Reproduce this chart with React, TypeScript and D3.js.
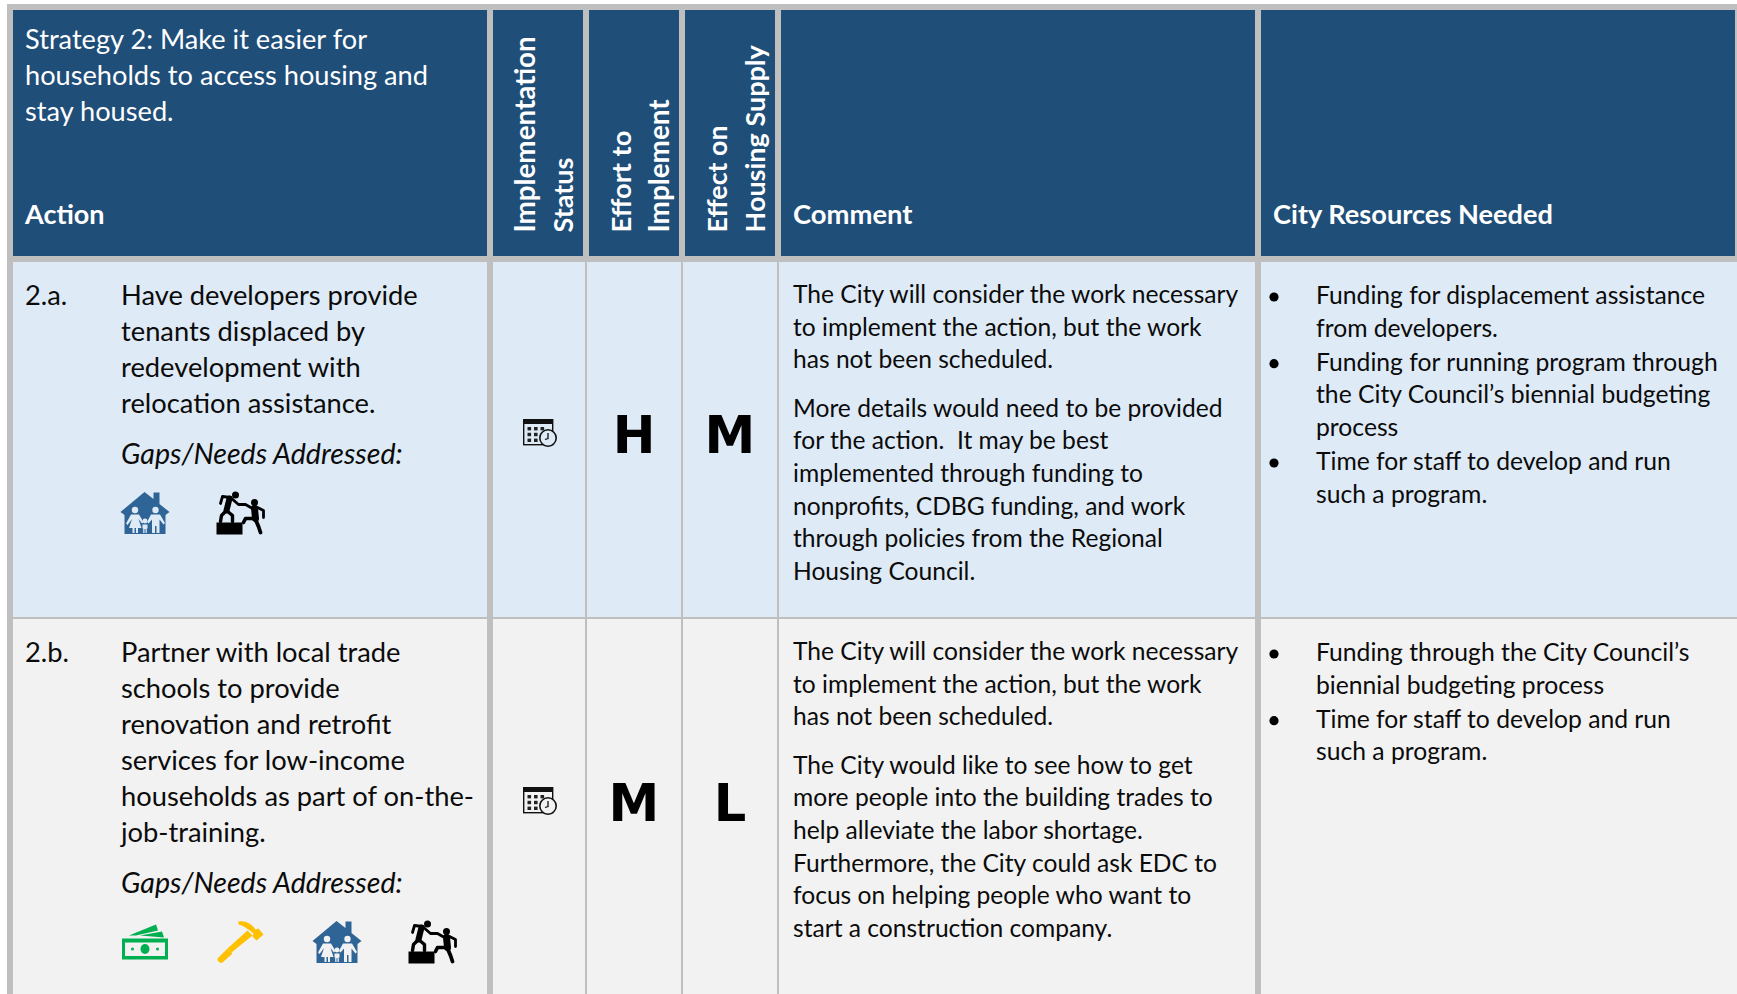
import * as d3 from 'd3';

const WIDTH = 1737;
const HEIGHT = 994;
const FONT = 'Lato, Carlito, sans-serif';
const LETTER_FONT = "'DejaVu Sans', Verdana, sans-serif";

const C = {
  head: '#1F4E79',
  grid: '#BFBFBF',
  rowA: '#DEEAF6',
  rowB: '#F2F2F2',
  ink: '#0B0B0B',
};

const strategyLines = ['Strategy 2: Make it easier for', 'households to access housing and', 'stay housed.'];
const rotatedHeaders = [
  ['Implementation', 'Status'],
  ['Effort to', 'Implement'],
  ['Effect on', 'Housing Supply'],
];
const rowIds = ['2.a.', '2.b.'];
const actionLines = [
  ['Have developers provide', 'tenants displaced by', 'redevelopment with', 'relocation assistance.'],
  ['Partner with local trade', 'schools to provide', 'renovation and retrofit', 'services for low-income', 'households as part of on-the-', 'job-training.'],
];
const effortRatings = ['H', 'M'];
const supplyRatings = ['M', 'L'];
const commentParas = [
  [
    ['The City will consider the work necessary', 'to implement the action, but the work', 'has not been scheduled.'],
    ['More details would need to be provided', 'for the action.  It may be best', 'implemented through funding to', 'nonprofits, CDBG funding, and work', 'through policies from the Regional', 'Housing Council.'],
  ],
  [
    ['The City will consider the work necessary', 'to implement the action, but the work', 'has not been scheduled.'],
    ['The City would like to see how to get', 'more people into the building trades to', 'help alleviate the labor shortage.', 'Furthermore, the City could ask EDC to', 'focus on helping people who want to', 'start a construction company.'],
  ],
];
const resourceBullets = [
  [
    ['Funding for displacement assistance', 'from developers.'],
    ['Funding for running program through', 'the City Council\u2019s biennial budgeting', 'process'],
    ['Time for staff to develop and run', 'such a program.'],
  ],
  [
    ['Funding through the City Council\u2019s', 'biennial budgeting process'],
    ['Time for staff to develop and run', 'such a program.'],
  ],
];
const gapIcons = [
  ['house', 'help'],
  ['money', 'hammer', 'house', 'help'],
];

// column edges of the table
const colLeft = [13, 493, 589, 685, 781, 1261];
const colRight = [487, 583, 679, 775, 1255, 1735];
const cellLeft = [13, 493, 587, 683, 779, 1261];
const cellRight = [487, 585, 681, 777, 1255, WIDTH];
const rowTop = [262, 619];
const rowBottom = [617, 994];
// Lato runs a little wider than the original face on some lines
const rotatedSizes = [
  [27.8, 27],
  [27.3, 27.9],
  [26.8, 27],
];

const firstBaseline = d3.scaleOrdinal<number, number>().domain([0, 1]).range([305, 662]);
const commentBase = d3.scaleOrdinal<number, number>().domain([0, 1]).range([303, 660]);
const iconY = d3.scaleOrdinal<number, number>().domain([0, 1]).range([513, 942]);
const gapsY = d3.scaleOrdinal<number, number>().domain([0, 1]).range([464, 893]);
const statusY = d3.scaleOrdinal<number, number>().domain([0, 1]).range([433, 801]);
const ratingBase = d3.scaleOrdinal<number, number>().domain([0, 1]).range([453, 821]);
const iconX = d3.scaleLinear().domain([0, 1]).range([145, 241]);
const actionLine = d3.scaleLinear().domain([0, 1]).range([0, 36]);
const commentLine = d3.scaleLinear().domain([0, 1]).range([0, 32.6]);
const headLine = d3.scaleLinear().domain([0, 1]).range([49, 85]);
const ratingX = d3.scaleBand<number>().domain([0, 1]).range([586, 778]);

function ratingCx(i: number) {
  return (ratingX(i) ?? 0) + ratingX.bandwidth() / 2;
}

function HouseIcon({ bg }: { bg: string }) {
  return (
    <g transform="translate(-24.5,-21)">
      <path d="M0 20 L24 0 L33 7 L33 0.5 L39 0.5 L39 12 L49 20 L45 23 L45 42 L4 42 L4 23 Z" fill="#2F6496" />
      <g fill={bg}>
        <circle cx="14.5" cy="18" r="3.2" />
        <circle cx="35" cy="18" r="3.2" />
        <circle cx="24.5" cy="29" r="2.4" />
        <path d="M10.5 22.5 H18.5 L23 30 L21.5 31.5 L18 27 L21 36 H17.5 V41 H15.5 V36 H14 V41 H12 V36 H8.5 L11.5 27 L7 33 L5.5 31.5 Z" />
        <path d="M30.5 22.5 H39.5 L44.5 31 L43 32.5 L39 27.5 V41 H36 V34 H34.5 V41 H31.5 V27.5 L28 31.5 L26.5 30 Z" />
        <path d="M22 32.5 H27 V36.5 H26.3 V41 H25 V37 H24 V41 H22.7 V36.5 H22 Z" />
      </g>
    </g>
  );
}

function HelpIcon() {
  return (
    <g transform="translate(-24.5,-21.5)">
      <rect x="0" y="31" width="26" height="12" fill="#000" />
      <circle cx="19" cy="3.5" r="3.5" fill="#000" />
      <circle cx="38" cy="11" r="3.5" fill="#000" />
      <g fill="none" stroke="#000" strokeLinecap="round" strokeLinejoin="round">
        <path d="M13 7 L10 19" strokeWidth="6" />
        <path d="M14 6 L6 5 L4 12" strokeWidth="2.8" />
        <path d="M14 6 L22 13 L29 13 L36 17" strokeWidth="2.8" />
        <path d="M10 19 L5 24 L4 30" strokeWidth="3.4" />
        <path d="M10 19 L16 24 L16 30" strokeWidth="3.4" />
        <path d="M38 17 L39 27" strokeWidth="7" />
        <path d="M41 16 L47 19 L47 26" strokeWidth="2.8" />
        <path d="M37 27 L29 27 L27 31" strokeWidth="3.6" />
        <path d="M39 28 L42 35 L44 41" strokeWidth="3.8" />
      </g>
    </g>
  );
}

function MoneyIcon() {
  return (
    <g transform="translate(-23,-17.5)" fill="#00B050">
      <path d="M7 11 L34 0 L36 6 L14 11 Z" />
      <path d="M18 11 L40 7 L42 13 L30 12 Z" />
      <path fillRule="evenodd" d="M0 14 H46 V35 H0 Z M3 18 V31.5 H43 V18 Z" />
      <ellipse cx="23" cy="24.5" rx="4.5" ry="5" />
      <circle cx="10.5" cy="24.5" r="1.5" />
      <circle cx="35.5" cy="24.5" r="1.5" />
    </g>
  );
}

function HammerIcon() {
  return (
    <g transform="translate(-23.5,-20.5)" fill="#FFC000">
      <path d="M21 0 C28 -1 34 2 38 8 L41 7 L46 13 L39 19 L35 15 L36 12 C32 9 28 5 21 3 Z" />
      <path d="M30 9 L35 14 L14 31 L10 27 Z" />
      <path d="M10 27 L15 32 L5 41 C2 42 0 40 0 37 Z" />
    </g>
  );
}

function CalendarIcon({ bg }: { bg: string }) {
  return (
    <g transform="translate(-17,-14)">
      <rect x="0.7" y="0.7" width="29" height="25" fill="none" stroke="#111" strokeWidth="1.4" />
      <rect x="0" y="0" width="30" height="5" fill="#111" />
      {d3.range(3).flatMap((r) =>
        d3.range(3).map((c) => (
          <rect key={`${r}-${c}`} x={4.5 + c * 6.5} y={8 + r * 5.8} width="3.6" height="3.4" fill="#222" />
        )),
      )}
      <circle cx="25" cy="19" r="8.2" fill={bg} stroke="#111" strokeWidth="1.6" />
      <path d="M25 14 V19.5 L22 20.5" fill="none" stroke="#111" strokeWidth="1.3" />
    </g>
  );
}

function GapIcon({ kind, bg }: { kind: string; bg: string }) {
  if (kind === 'house') return <HouseIcon bg={bg} />;
  if (kind === 'help') return <HelpIcon />;
  if (kind === 'money') return <MoneyIcon />;
  return <HammerIcon />;
}

function TableRow({ r }: { r: number }) {
  const bg = r === 0 ? C.rowA : C.rowB;
  let commentY = commentBase(r);
  let resourceY = commentBase(r) + 1;
  return (
    <g>
      <text x={25} y={firstBaseline(r)} fontSize={27.3} fill={C.ink}>{rowIds[r]}</text>
      {actionLines[r].map((line, i) => (
        <text key={line} x={121} y={firstBaseline(r) + actionLine(i)} fontSize={27.3} fill={C.ink}>{line}</text>
      ))}
      <text x={121} y={gapsY(r)} fontSize={28.6} fontStyle="italic" fill={C.ink}>Gaps/Needs Addressed:</text>
      {gapIcons[r].map((kind, i) => (
        <g key={i} transform={`translate(${iconX(i)},${iconY(r)})`}>
          <GapIcon kind={kind} bg={bg} />
        </g>
      ))}
      <g transform={`translate(540,${statusY(r)})`}>
        <CalendarIcon bg={bg} />
      </g>
      <text x={ratingCx(0)} y={ratingBase(r)} textAnchor="middle" fontSize={51} fontWeight={700} fontFamily={LETTER_FONT} fill="#000">{effortRatings[r]}</text>
      <text x={ratingCx(1)} y={ratingBase(r)} textAnchor="middle" fontSize={51} fontWeight={700} fontFamily={LETTER_FONT} fill="#000">{supplyRatings[r]}</text>
      {commentParas[r].map((para, p) => {
        const top = commentY;
        commentY += commentLine(para.length) + 16;
        return para.map((line, i) => (
          <text key={`${p}-${i}`} x={793} y={top + commentLine(i)} fontSize={24.6} fill={C.ink} style={{ whiteSpace: 'pre' }}>{line}</text>
        ));
      })}
      {resourceBullets[r].map((item, b) => {
        const top = resourceY;
        resourceY += commentLine(item.length) + 1.5;
        return (
          <g key={b}>
            <circle cx={1274} cy={top - 7} r={4.6} fill="#000" />
            {item.map((line, i) => (
              <text key={line} x={1316} y={top + commentLine(i)} fontSize={24.7} fill={C.ink}>{line}</text>
            ))}
          </g>
        );
      })}
    </g>
  );
}

export default function App() {
  return (
    <svg
      width={WIDTH}
      height={HEIGHT}
      viewBox={`0 0 ${WIDTH} ${HEIGHT}`}
      fontFamily={FONT}
      style={{ position: 'fixed', left: 0, top: 0, display: 'block', background: '#fff' }}
    >
      <rect x={7} y={4} width={WIDTH - 7} height={HEIGHT - 4} fill={C.grid} />

      {colLeft.map((x, i) => (
        <rect key={i} x={x} y={10} width={colRight[i] - x} height={246} fill={C.head} />
      ))}

      {rowTop.map((top, r) => (
        <g key={r}>
          {cellLeft.map((x, i) => (
            <rect key={i} x={x} y={top} width={cellRight[i] - x} height={rowBottom[r] - top} fill={r === 0 ? C.rowA : C.rowB} />
          ))}
        </g>
      ))}

      {strategyLines.map((line, i) => (
        <text key={line} x={25} y={headLine(i)} fontSize={27.2} fill="#fff">{line}</text>
      ))}
      <text x={25} y={224} fontSize={27} fontWeight={700} fill="#fff">Action</text>
      <text x={793} y={224} fontSize={27.4} fontWeight={700} fill="#fff">Comment</text>
      <text x={1273} y={224} fontSize={27.2} fontWeight={700} fill="#fff">City Resources Needed</text>

      {rotatedHeaders.map((pair, c) =>
        pair.map((line, i) => (
          <text
            key={line}
            transform={`translate(${534.5 + c * 96 + i * 38},232.5) rotate(-90)`}
            fontSize={rotatedSizes[c][i]}
            fontWeight={700}
            fill="#fff"
          >
            {line}
          </text>
        )),
      )}

      {rowTop.map((_, r) => (
        <TableRow key={r} r={r} />
      ))}
    </svg>
  );
}
